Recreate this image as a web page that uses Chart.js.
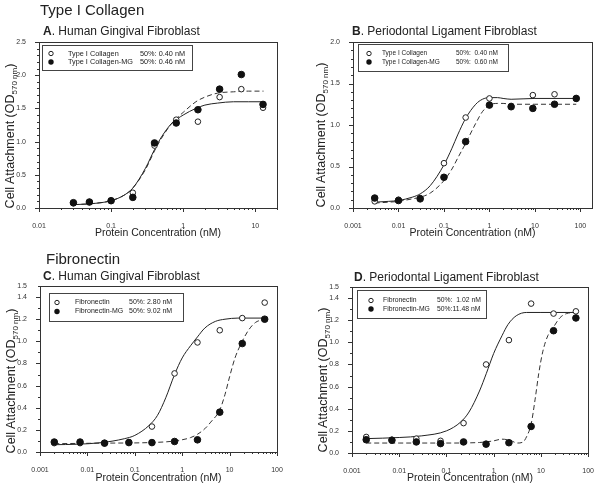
<!DOCTYPE html>
<html>
<head>
<meta charset="utf-8">
<script src="https://cdn.jsdelivr.net/npm/chart.js@4.4.0/dist/chart.umd.min.js"></script>
<style>
  body { margin: 0; background: #fff; font-family: "Liberation Sans", Arial, sans-serif; color: #222; }
  #fig { position: relative; width: 600px; height: 488px; overflow: hidden; }
  canvas { position: absolute; }
  .head { position: absolute; font-size: 15px; line-height: 15px; white-space: nowrap; }
  .sub { position: absolute; font-size: 12px; line-height: 12px; white-space: nowrap; }
  .sub b { font-weight: bold; }
  .ylab { position: absolute; font-size: 12.5px; white-space: nowrap; transform: translate(-50%, -50%) rotate(-90deg); }
  .ylab sub { font-size: 8px; }
</style>
</head>
<body>
<div id="fig">
  <canvas id="cA" width="300" height="240" style="left:0;top:0"></canvas>
  <canvas id="cB" width="300" height="240" style="left:300px;top:0"></canvas>
  <canvas id="cC" width="300" height="244" style="left:0;top:244px"></canvas>
  <canvas id="cD" width="300" height="244" style="left:300px;top:244px"></canvas>
  <div class="head" style="left:40px;top:2px">Type I Collagen</div>
  <div class="head" style="left:46px;top:251px">Fibronectin</div>
  <div class="sub" style="left:43px;top:25px"><b>A</b>.  Human Gingival Fibroblast</div>
  <div class="sub" style="left:352px;top:25px"><b>B</b>.  Periodontal Ligament Fibroblast</div>
  <div class="sub" style="left:43px;top:270px"><b>C</b>.  Human Gingival Fibroblast</div>
  <div class="sub" style="left:354px;top:271px"><b>D</b>.  Periodontal Ligament Fibroblast</div>
  <div class="ylab" style="left:11px;top:136px">Cell Attachment (OD<sub>570 nm</sub>)</div>
  <div class="ylab" style="left:322px;top:135px">Cell Attachment (OD<sub>570 nm</sub>)</div>
  <div class="ylab" style="left:12px;top:381px">Cell Attachment (OD<sub>570 nm</sub>)</div>
  <div class="ylab" style="left:324px;top:380px">Cell Attachment (OD<sub>570 nm</sub>)</div>
</div>
<script>
// ---- data ----
const namesCol = ['Type I Collagen', 'Type I Collagen-MG'];
const namesFn = ['Fibronectin', 'Fibronectin-MG'];
const ec50A = ['50%: 0.40 nM', '50%: 0.46 nM'];
const ec50B = ['50%:  0.40 nM', '50%:  0.60 nM'];
const ec50C = ['50%: 2.80 nM', '50%: 9.02 nM'];
const ec50D = ['50%:  1.02 nM', '50%:11.48 nM'];

const xTicksA = [0.01, 0.1, 1, 10];
const xTicksBCD = [0.001, 0.01, 0.1, 1, 10, 100];

// A. collagen, gingival fibroblast
const concA = [0.03, 0.05, 0.1, 0.2, 0.4, 0.8, 1.6, 3.2, 6.4, 12.8];
const colA = [0.07, 0.09, 0.11, 0.23, 0.94, 1.33, 1.30, 1.67, 1.79, 1.51];
const colMgA = [0.08, 0.09, 0.11, 0.16, 0.98, 1.28, 1.48, 1.79, 2.01, 1.56];
const fitXA = [0.03, 0.06, 0.1, 0.15, 0.2, 0.3, 0.4, 0.5, 0.7, 1, 1.5, 2, 3, 5, 8, 13];
const fitColA = [0.05, 0.07, 0.11, 0.19, 0.30, 0.60, 0.88, 1.07, 1.28, 1.40, 1.50, 1.55, 1.58, 1.60, 1.60, 1.60];
const fitColMgA = [0.05, 0.07, 0.11, 0.19, 0.30, 0.58, 0.86, 1.05, 1.28, 1.44, 1.60, 1.67, 1.73, 1.75, 1.76, 1.76];

// B. collagen, PDL fibroblast
const concB = [0.003, 0.01, 0.03, 0.1, 0.3, 1, 3, 9, 27, 81];
const colB = [0.08, 0.10, 0.12, 0.54, 1.09, 1.32, 1.23, 1.36, 1.37, 1.32];
const colMgB = [0.12, 0.09, 0.11, 0.37, 0.80, 1.24, 1.22, 1.20, 1.25, 1.32];
const fitXB = [0.003, 0.006, 0.01, 0.02, 0.03, 0.05, 0.1, 0.15, 0.2, 0.3, 0.5, 0.7, 1, 1.5, 2, 3, 10, 81];
const fitColB = [0.07, 0.08, 0.09, 0.13, 0.17, 0.27, 0.52, 0.72, 0.88, 1.08, 1.25, 1.31, 1.33, 1.33, 1.32, 1.31, 1.32, 1.32];
const fitColMgB = [0.06, 0.07, 0.08, 0.11, 0.13, 0.18, 0.33, 0.47, 0.60, 0.78, 1.02, 1.16, 1.24, 1.26, 1.26, 1.25, 1.25, 1.25];

// C. fibronectin, gingival fibroblast
const concFn = [0.002, 0.007, 0.023, 0.075, 0.23, 0.69, 2.1, 6.2, 18.5, 55];
const fnC = [0.08, 0.08, 0.08, 0.09, 0.23, 0.71, 0.99, 1.10, 1.21, 1.35];
const fnMgC = [0.09, 0.09, 0.08, 0.085, 0.085, 0.095, 0.11, 0.36, 0.98, 1.20];
const fitXC = [0.002, 0.006, 0.02, 0.06, 0.1, 0.2, 0.3, 0.45, 0.69, 1, 1.5, 2.1, 3, 5, 8, 15, 55];
const fitFnC = [0.066, 0.07, 0.085, 0.12, 0.15, 0.24, 0.33, 0.49, 0.70, 0.85, 0.96, 1.04, 1.12, 1.18, 1.20, 1.21, 1.21];
const fitXMgC = [0.002, 0.02, 0.2, 0.7, 1.5, 2.1, 3, 4, 6.2, 8, 10, 13, 18.5, 25, 35, 55];
const fitFnMgC = [0.075, 0.08, 0.085, 0.10, 0.13, 0.16, 0.21, 0.27, 0.38, 0.52, 0.68, 0.85, 1.0, 1.1, 1.17, 1.20];

// D. fibronectin, PDL fibroblast
const fnD = [0.145, 0.12, 0.13, 0.11, 0.27, 0.80, 1.02, 1.35, 1.26, 1.28];
const fnMgD = [0.12, 0.115, 0.10, 0.085, 0.10, 0.08, 0.093, 0.24, 1.105, 1.22];
const fitXD = [0.002, 0.01, 0.03, 0.1, 0.2, 0.3, 0.5, 0.7, 1, 1.5, 2, 3, 5, 10, 55];
const fitFnD = [0.13, 0.14, 0.155, 0.20, 0.28, 0.37, 0.56, 0.72, 0.90, 1.06, 1.16, 1.24, 1.27, 1.27, 1.27];
const fitXMgD = [0.002, 0.01, 0.1, 0.5, 1, 1.5, 2.2, 3.2, 4.2, 5, 6.2, 7.5, 9, 11, 14, 18, 25, 35, 55];
const fitFnMgD = [0.09, 0.09, 0.09, 0.095, 0.11, 0.125, 0.115, 0.09, 0.10, 0.15, 0.26, 0.48, 0.72, 0.92, 1.06, 1.13, 1.22, 1.26, 1.27];

const pts = (xs, ys) => xs.map((x, i) => ({ x, y: ys[i] }));

// frame + SigmaPlot style outward ticks
const frameTicks = {
  id: 'frameTicks',
  afterDraw(chart, args, opts) {
    const { ctx, chartArea: a, scales: { x, y } } = chart;
    ctx.save();
    ctx.strokeStyle = '#333';
    ctx.lineWidth = 1;
    ctx.strokeRect(Math.round(a.left) + 0.5, Math.round(a.top) + 0.5,
      Math.round(a.right - a.left), Math.round(a.bottom - a.top));
    ctx.beginPath();
    const lo = Math.floor(Math.log10(x.min)), hi = Math.ceil(Math.log10(x.max));
    for (let d = lo; d <= hi; d++) {
      for (let m = 1; m <= 9; m++) {
        const v = m * Math.pow(10, d);
        if (v < x.min * 0.999 || v > x.max * 1.001) continue;
        const px = Math.round(x.getPixelForValue(v)) + 0.5;
        ctx.moveTo(px, a.bottom);
        ctx.lineTo(px, a.bottom + (m === 1 ? 4 : 2));
      }
    }
    const n = Math.round((y.max - y.min) / opts.minor);
    for (let i = 0; i <= n; i++) {
      const v = y.min + i * opts.minor;
      const r = v / opts.major;
      const major = Math.abs(r - Math.round(r)) < 1e-6;
      const py = Math.round(y.getPixelForValue(v)) + 0.5;
      ctx.moveTo(a.left, py);
      ctx.lineTo(a.left - (major ? 4 : 2), py);
    }
    ctx.stroke();
    ctx.restore();
  }
};

// boxed legend with the 50% values, drawn inside the plot
const legendBox = {
  id: 'legendBox',
  afterDraw(chart, args, o) {
    const ctx = chart.ctx;
    const [l, t, r, b] = o.box;
    ctx.save();
    ctx.fillStyle = '#fff';
    ctx.fillRect(l, t, r - l, b - t);
    ctx.strokeStyle = '#444';
    ctx.lineWidth = 1;
    ctx.strokeRect(l + 0.5, t + 0.5, r - l, b - t);
    ctx.font = o.size + 'px "Liberation Sans"';
    ctx.textBaseline = 'middle';
    o.names.forEach((nm, i) => {
      const y = o.rows[i];
      ctx.beginPath();
      ctx.arc(o.sx, y, i === 0 ? 2.2 : 2.7, 0, 2 * Math.PI);
      if (i === 0) {
        ctx.fillStyle = '#fff'; ctx.fill();
        ctx.strokeStyle = '#222'; ctx.stroke();
      } else {
        ctx.fillStyle = '#111'; ctx.fill();
      }
      ctx.fillStyle = '#222';
      ctx.fillText(nm, o.nx, y);
      ctx.fillText(o.ec[i], o.ex, y);
    });
    ctx.restore();
  }
};

function panel(id, p) {
  const dsets = [
    { data: pts(p.conc, p.yMg), backgroundColor: '#111', borderColor: '#111', pointRadius: 3.3, borderWidth: 1 },
    { data: pts(p.conc, p.y), backgroundColor: '#fff', borderColor: '#222', pointRadius: 2.8, borderWidth: 1 },
    { data: pts(p.fitX, p.fit), showLine: true, pointRadius: 0, borderColor: '#222', borderWidth: 1,
      cubicInterpolationMode: 'monotone' },
    { data: pts(p.fitXMg, p.fitMg), showLine: true, pointRadius: 0, borderColor: '#333', borderWidth: 1,
      borderDash: [5, 3], cubicInterpolationMode: 'monotone' }
  ];
  new Chart(document.getElementById(id), {
    type: 'scatter',
    data: { datasets: dsets },
    options: {
      responsive: false,
      animation: false,
      events: [],
      layout: { autoPadding: false, padding: { left: 0, right: p.padR, top: p.padT, bottom: 0 } },
      plugins: {
        legend: { display: false },
        tooltip: { enabled: false },
        frameTicks: { major: p.major, minor: p.minor },
        legendBox: p.leg
      },
      scales: {
        x: {
          type: 'logarithmic',
          min: p.xMin, max: p.xMax,
          grid: { display: false }, border: { display: false },
          afterBuildTicks: s => { s.ticks = p.xTicks.map(v => ({ value: v })); },
          afterFit: s => { s.height = p.xH; },
          ticks: { autoSkip: false, maxRotation: 0, padding: 6, color: '#333',
            font: { size: 7, family: 'Liberation Sans' }, callback: v => String(v) },
          title: { display: true, text: 'Protein Concentration (nM)', color: '#222',
            font: { size: 10.5, family: 'Liberation Sans' }, padding: { top: 0, bottom: p.titleB } }
        },
        y: {
          min: 0, max: p.yMax,
          grid: { display: false }, border: { display: false },
          afterFit: s => { s.width = p.yW; },
          ticks: { stepSize: p.major, padding: 5, color: '#333',
            font: { size: 7, family: 'Liberation Sans' }, callback: v => v.toFixed(1) }
        }
      }
    },
    plugins: [frameTicks, legendBox]
  });
}

panel('cA', { conc: concA, y: colA, yMg: colMgA, fitX: fitXA, fit: fitColA, fitXMg: fitXA, fitMg: fitColMgA,
  xMin: 0.01, xMax: 20, xTicks: xTicksA, yMax: 2.5, major: 0.5, minor: 0.1,
  yW: 39, padR: 23, padT: 42, xH: 32, titleB: 0.5,
  leg: { box: [42, 45, 192, 70], names: namesCol, ec: ec50A, sx: 51, nx: 68, ex: 140, rows: [53.5, 62], size: 7.3 } });
panel('cB', { conc: concB, y: colB, yMg: colMgB, fitX: fitXB, fit: fitColB, fitXMg: fitXB, fitMg: fitColMgB,
  xMin: 0.001, xMax: 180, xTicks: xTicksBCD, yMax: 2.0, major: 0.5, minor: 0.1,
  yW: 53, padR: 8, padT: 42, xH: 32, titleB: 0.5,
  leg: { box: [58, 44, 208, 71], names: namesCol, ec: ec50B, sx: 69, nx: 82, ex: 156, rows: [53.5, 62], size: 6.5 } });
panel('cC', { conc: concFn, y: fnC, yMg: fnMgC, fitX: fitXC, fit: fitFnC, fitXMg: fitXMgC, fitMg: fitFnMgC,
  xMin: 0.001, xMax: 100, xTicks: xTicksBCD, yMax: 1.5, major: 0.2, minor: 0.1,
  yW: 40, padR: 23, padT: 42, xH: 36, titleB: 3.5,
  leg: { box: [49, 49, 183, 77], names: namesFn, ec: ec50C, sx: 57, nx: 75, ex: 129, rows: [58.5, 67.5], size: 7 } });
panel('cD', { conc: concFn, y: fnD, yMg: fnMgD, fitX: fitXD, fit: fitFnD, fitXMg: fitXMgD, fitMg: fitFnMgD,
  xMin: 0.001, xMax: 100, xTicks: xTicksBCD, yMax: 1.5, major: 0.2, minor: 0.1,
  yW: 52, padR: 8, padT: 43, xH: 35, titleB: 3.5,
  leg: { box: [57, 46, 186, 74], names: namesFn, ec: ec50D, sx: 71, nx: 83, ex: 137, rows: [56.5, 65], size: 6.8 } });
</script>
</body>
</html>
